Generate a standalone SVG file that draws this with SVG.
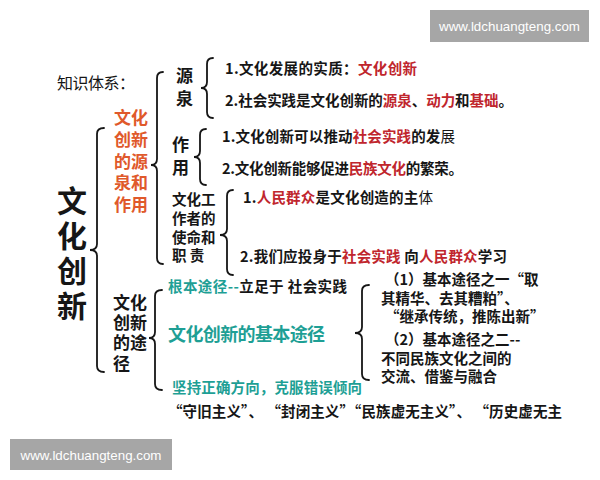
<svg xmlns="http://www.w3.org/2000/svg" width="600" height="480" viewBox="0 0 600 480">
<style>
.t{font-family:"Noto Sans CJK SC","Noto Sans",sans-serif;font-weight:bold;fill:#161616}
.n{font-weight:normal}
.r{fill:#c0262d}
.o{fill:#e0592b}
.g{fill:#1e9f95}
.br{fill:none;stroke:#161616;stroke-width:1.8;stroke-linecap:round}
.wm{fill:#a6a6a6}
.wt{font-family:"Liberation Sans",Arial,sans-serif;font-size:13.5px;fill:#fff}
</style>
<rect width="600" height="480" fill="#fff"/>
<g id="watermark-top"><rect class="wm" x="430" y="10" width="159" height="32"/><text class="wt" x="509.5" y="31" text-anchor="middle" textLength="141" lengthAdjust="spacingAndGlyphs">www.ldchuangteng.com</text></g>
<g id="watermark-bottom"><rect class="wm" x="10" y="439" width="162" height="31"/><text class="wt" x="91" y="459.5" text-anchor="middle" textLength="141" lengthAdjust="spacingAndGlyphs">www.ldchuangteng.com</text></g>
<g id="connectors">
<path class="br" d="M104 128 Q97 128 97 134 L97 244 Q97 250 90 250 Q97 250 97 256 L97 366 Q97 372 104 372"/>
<path class="br" d="M163 72 Q157 72 157 78 L157 159 Q157 165 151 165 Q157 165 157 171 L157 258 Q157 264 163 264"/>
<path class="br" d="M213 58 Q207 58 207 64 L207 82 Q207 88 201 88 Q207 88 207 94 L207 112 Q207 118 213 118"/>
<path class="br" d="M206 129 Q200 129 200 135 L200 151 Q200 157 194 157 Q200 157 200 163 L200 179 Q200 185 206 185"/>
<path class="br" d="M233 190 Q227 190 227 196 L227 229 Q227 235 220 235 Q227 235 227 241 L227 269 Q227 275 233 275"/>
<path class="br" d="M162 290 Q155 290 155 296 L155 332 Q155 338 149 338 Q155 338 155 344 L155 384 Q155 390 162 390"/>
<path class="br" d="M369 285 Q362 285 362 291 L362 327 Q362 333 355 333 Q362 333 362 339 L362 374 Q362 380 369 380"/>
</g>
<g id="title"><text class="t n" x="57" y="89" font-size="16" textLength="78" fill="#222">知识体系：</text></g>
<g id="root"><text class="t" x="72" y="186" font-size="30" writing-mode="vertical-rl" letter-spacing="5">文化创新</text></g>
<g id="node-source-role"><text class="t o" font-size="17"><tspan x="114" y="124">文化</tspan><tspan x="114" y="146">创新</tspan><tspan x="114" y="168">的源</tspan><tspan x="114" y="189">泉和</tspan><tspan x="114" y="211">作用</tspan></text></g>
<g id="node-source"><text class="t" font-size="17"><tspan x="176" y="82">源</tspan><tspan x="176" y="105">泉</tspan></text></g>
<g id="node-source-items" font-size="14.5">
<text class="t" x="225" y="74" textLength="192">1.文化发展的实质：<tspan class="r">文化创新</tspan></text>
<text class="t" x="225" y="106" textLength="288">2.社会实践是文化创新的<tspan class="r">源泉</tspan>、<tspan class="r">动力</tspan>和<tspan class="r">基础</tspan>。</text>
</g>
<g id="node-role"><text class="t" font-size="17"><tspan x="172" y="151">作</tspan><tspan x="172" y="174">用</tspan></text></g>
<g id="node-role-items" font-size="14.5">
<text class="t" x="222" y="142" textLength="233">1.文化创新可以推动<tspan class="r">社会实践</tspan>的发<tspan class="n">展</tspan></text>
<text class="t" x="222" y="174" textLength="241">2.文化创新能够促进<tspan class="r">民族文化</tspan>的繁荣。</text>
</g>
<g id="node-mission"><text class="t" font-size="14.5"><tspan x="172" y="205">文化工</tspan><tspan x="172" y="224">作者的</tspan><tspan x="172" y="243">使命和</tspan><tspan x="172" y="261">职 责</tspan></text></g>
<g id="node-mission-items" font-size="14.5">
<text class="t" x="243" y="203" textLength="190">1.<tspan class="r">人民群众</tspan>是文化创造的主<tspan class="n">体</tspan></text>
<text class="t" x="240" y="262" textLength="267">2.我们应投身于<tspan class="r">社会实践</tspan> 向<tspan class="r">人民群众</tspan>学习</text>
</g>
<g id="node-path"><text class="t" font-size="17"><tspan x="113" y="309">文化</tspan><tspan x="113" y="329">创新</tspan><tspan x="113" y="349">的途</tspan><tspan x="113" y="370">径</tspan></text></g>
<g id="node-path-items" font-size="14.5">
<text class="t" x="168" y="292" textLength="179"><tspan class="g">根本途径--</tspan>立足于 社会实践</text>
<text class="t g" x="168" y="341" font-size="18" textLength="157">文化创新的基本途径</text>
<text class="t g" x="172" y="393" textLength="190">坚持正确方向，克服错误倾向</text>
<text class="t" x="168" y="417" textLength="394">“守旧主义”、 “封闭主义”“民族虚无主义”、 “历史虚无主</text>
</g>
<g id="node-basic-items"><text class="t" font-size="14.5">
<tspan x="385" y="285">（1）基本途径之一“取</tspan>
<tspan x="381" y="304">其精华、去其糟粕”、</tspan>
<tspan x="385" y="322">“继承传统，推陈出新”</tspan>
<tspan x="385" y="345">（2）基本途径之二--</tspan>
<tspan x="381" y="364">不同民族文化之间的</tspan>
<tspan x="381" y="382">交流、借鉴与融合</tspan>
</text></g>
</svg>
